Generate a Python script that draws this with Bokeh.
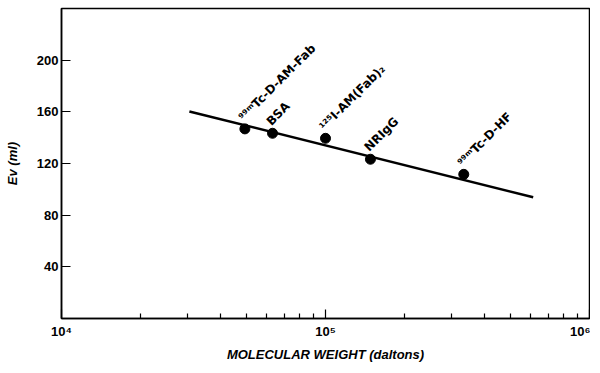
from bokeh.plotting import figure
from bokeh.models import FixedTicker, ColumnDataSource, Label
from bokeh.embed import file_html
from bokeh.resources import INLINE

# data
proteins = ["⁹⁹ᵐTc-D-AM-Fab", "BSA", "¹²⁵I-AM(Fab)₂", "NRIgG", "⁹⁹ᵐTc-D-HF"]
mol_weight = [49500, 63000, 100000, 148000, 334000]
ev_ml = [146.8, 143.4, 139.5, 123.3, 111.6]

fit_mw = [30500, 612000]
fit_ev = [160.3, 93.9]

y_ticks = [40, 80, 120, 160, 200]
x_ticks = [10000, 100000, 1000000]
x_tick_labels = ["10⁴", "10⁵", "10⁶"]
x_minor = [20000, 30000, 40000, 50000, 60000, 70000, 80000, 90000,
           200000, 300000, 400000, 500000, 600000, 700000, 800000, 900000]

p = figure(x_axis_type="log", x_range=(1e4, 1e6), y_range=(0, 240),
           frame_width=528, frame_height=310,
           min_border_left=61, min_border_right=1, min_border_top=8, min_border_bottom=51,
           output_backend="svg", toolbar_location=None)
p.grid.visible = False
p.outline_line_color = "black"
p.outline_line_width = 1.5
p.background_fill_color = "white"
p.border_fill_color = "white"

# axes
p.xaxis.ticker = FixedTicker(ticks=x_ticks, minor_ticks=x_minor)
p.xaxis.major_label_overrides = {t: l for t, l in zip(x_ticks, x_tick_labels)}
p.yaxis.ticker = FixedTicker(ticks=y_ticks, minor_ticks=[])
for ax in (p.xaxis, p.yaxis):
    ax.axis_line_color = "black"
    ax.axis_line_width = 1.5
    ax.major_tick_line_color = "black"
    ax.major_tick_line_width = 1.2
    ax.minor_tick_line_color = "black"
    ax.minor_tick_line_width = 1.2
    ax.major_tick_out = 0
    ax.minor_tick_out = 0
    ax.major_label_text_font = "Liberation Sans"
    ax.major_label_text_font_style = "bold"
    ax.major_label_text_font_size = "13px"
    ax.major_label_text_color = "black"
    ax.axis_label_text_font = "Liberation Sans"
    ax.axis_label_text_font_style = "bold italic"
    ax.axis_label_text_font_size = "13px"
    ax.axis_label_text_color = "black"
p.xaxis.major_tick_in = 9
p.xaxis.minor_tick_in = 5
p.yaxis.major_tick_in = 9
p.yaxis.minor_tick_in = 0
p.xaxis.major_label_standoff = 5
p.yaxis.major_label_standoff = 3
p.xaxis.axis_label = "MOLECULAR WEIGHT (daltons)"
p.yaxis.axis_label = "Ev (ml)"
p.xaxis.axis_label_standoff = 5
p.yaxis.axis_label_standoff = 14

# fitted line
p.line(fit_mw, fit_ev, line_color="black", line_width=2.5)

# points
src = ColumnDataSource(data=dict(x=mol_weight, y=ev_ml))
p.scatter("x", "y", source=src, size=10, fill_color="black", line_color="black")
for mw, ev, name in zip(mol_weight, ev_ml, proteins):
    p.add_layout(Label(x=mw, y=ev, text=name, angle=45, angle_units="deg",
                       x_offset=1, y_offset=5, text_align="left", text_baseline="bottom",
                       text_font="DejaVu Sans", text_font_style="bold",
                       text_font_size="12px", text_color="black"))

open("out.html", "w").write(file_html(p, INLINE))
